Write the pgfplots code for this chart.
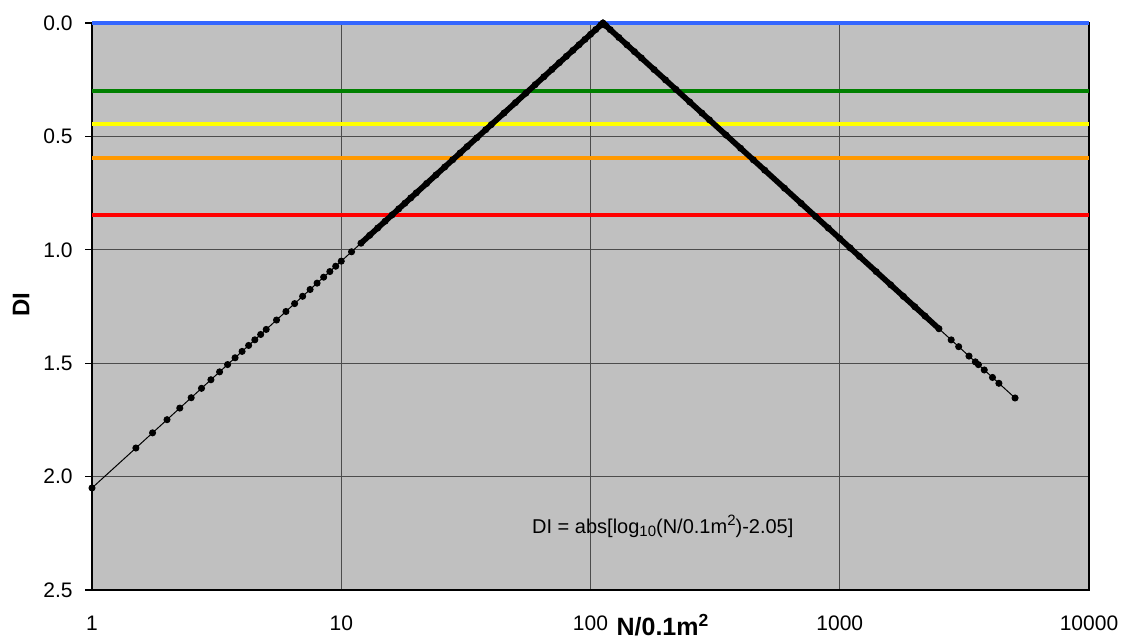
\documentclass[border=0pt]{standalone}
\usepackage{fontspec}
\setmainfont{Liberation Sans}
\usepackage{pgfplots}
\pgfplotsset{compat=1.18}
\definecolor{bgray}{RGB}{192,192,192}
\definecolor{lblue}{RGB}{51,102,255}
\definecolor{lgreen}{RGB}{0,128,0}
\definecolor{lyellow}{RGB}{255,255,0}
\definecolor{lorange}{RGB}{255,153,0}
\definecolor{lred}{RGB}{255,0,0}
\begin{document}
\begin{tikzpicture}
\begin{axis}[
  name=ax, at={(0,0)}, anchor=south west,
  scale only axis, width=498.5pt, height=283.5pt,
  xmode=log, xmin=1, xmax=10000,
  ymin=0, ymax=2.5, y dir=reverse,
  clip=false,
  axis background/.style={fill=bgray},
  axis line style={black, line width=0.9pt},
  xtick={1,10,100,1000,10000},
  xticklabels={1,10,100,1000,10000},
  minor xtick={},
  ytick={0,0.5,1,1.5,2,2.5},
  tick align=outside,
  ytick pos=left, xtick pos=bottom,
  major tick length=3.5pt,
  x tick style={draw=none},
  y tick style={black, line width=0.6pt},
  xmajorgrids, ymajorgrids,
  major grid style={black!70, line width=0.5pt},
  /pgf/number format/assume math mode=true,
  yticklabel style={/pgf/number format/fixed, /pgf/number format/fixed zerofill, /pgf/number format/precision=1, xshift=-2.7pt},
  tick label style={font=\fontsize{10.5}{12}\selectfont},
  xticklabel style={yshift=-6pt},
  xlabel={N/0.1m\textsuperscript{2}},
  xlabel style={at={(axis description cs:0.5727,0)}, anchor=base, yshift=-22.8pt, font=\fontsize{12.5}{15}\selectfont\bfseries},
  ylabel={DI},
  ylabel style={at={(axis description cs:-0.0712,0.503)}, anchor=center, font=\fontsize{12}{14}\selectfont\bfseries},
]
\addplot[lblue, line width=2pt] coordinates {(1,0) (10000,0)};
\addplot[lgreen, line width=2pt] coordinates {(1,0.30) (10000,0.30)};
\addplot[lyellow, line width=2pt] coordinates {(1,0.445) (10000,0.445)};
\addplot[lorange, line width=2pt] coordinates {(1,0.593) (10000,0.593)};
\addplot[lred, line width=2pt] coordinates {(1,0.848) (10000,0.848)};
% thick dense part
\addplot[black, line width=2.8pt, line join=miter] coordinates {
(12,0.9708) (112.2,0) (2500,1.3479)};
\addplot[black, line width=0.5pt, mark=*, mark size=1.5pt, mark options={fill=black}] coordinates {
(1,2.05) (1.5,1.8739) (1.75,1.8070) (2,1.7490) (2.25,1.6978) (2.5,1.6521) (2.75,1.6107)
(3,1.5729) (3.25,1.5381) (3.5,1.5059) (3.75,1.4760) (4,1.4479) (4.25,1.4216) (4.5,1.3968)
(4.75,1.3733) (5,1.3510) (5.5,1.3096) (6,1.2718) (6.5,1.2371) (7,1.2049) (7.5,1.1749)
(8,1.1469) (8.5,1.1206) (9,1.0958) (9.5,1.0723) (10,1.05) (11,1.0086) (12,0.9708)
(13,0.9361) (14,0.9039) (15,0.8739) (16,0.8459) (17,0.8196) (18,0.7947) (19,0.7712)
(20,0.7490) (22,0.7076) (24,0.6698) (26,0.6350) (28,0.6028) (30,0.5729) (32,0.5449)
(35,0.5059) (38,0.4702) (40,0.4479) (45,0.3968) (50,0.3510) (55,0.3096) (60,0.2718)
(65,0.2371) (70,0.2049) (75,0.1749) (80,0.1469) (85,0.1206) (90,0.0958) (95,0.0723)
(100,0.05) (105,0.0288) (110,0.0086) (112.2,0) (115,0.0107) (120,0.0292) (130,0.0639)
(140,0.0961) (150,0.1261) (160,0.1541) (180,0.2053) (200,0.2510) (220,0.2924)
(250,0.3479) (280,0.3972) (300,0.4271) (350,0.4941) (400,0.5521) (450,0.6032)
(500,0.6490) (600,0.7282) (700,0.7951) (800,0.8531) (900,0.9042) (1000,0.95)
(1100,0.9914) (1200,1.0292) (1400,1.0961) (1600,1.1541) (1800,1.2053) (2000,1.2510)
(2200,1.2924) (2500,1.3479) (2800,1.3972) (3000,1.4271) (3300,1.4685) (3500,1.4941)
(3600,1.5063) (3800,1.5298) (4100,1.5628) (4350,1.5885) (5050,1.6533)};
\node[font=\fontsize{10}{12}\selectfont] at (axis cs:195,2.22) {DI = abs[log\raisebox{-0.3ex}{\fontsize{7.5}{8}\selectfont 10}(N/0.1m\raisebox{0.75ex}{\fontsize{7.5}{8}\selectfont 2})-2.05]};
\end{axis}
\pgfresetboundingbox
\path[use as bounding box] (-46pt,-24.5pt) rectangle (515pt,295pt);
\end{tikzpicture}
\end{document}
